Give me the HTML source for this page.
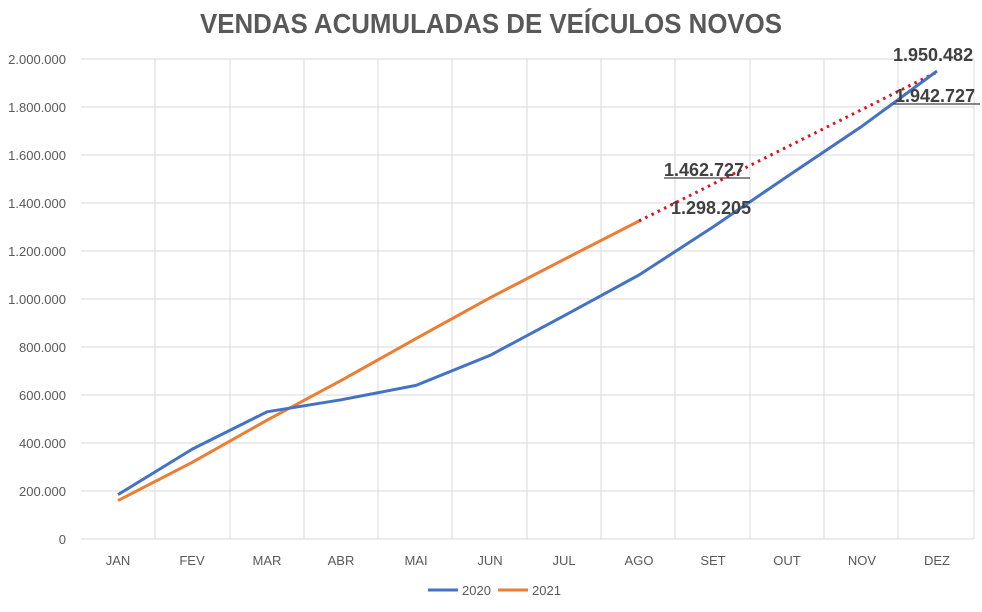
<!DOCTYPE html>
<html><head><meta charset="utf-8"><style>
body{margin:0;background:#fff;}
svg{display:block;font-family:"Liberation Sans",Arial,sans-serif;}
</style></head><body>
<svg width="982" height="612" viewBox="0 0 982 612">
<rect width="982" height="612" fill="#fff"/>
<text x="200" y="33" textLength="582" lengthAdjust="spacingAndGlyphs" font-size="28" font-weight="bold" fill="#595959">VENDAS ACUMULADAS DE VEÍCULOS NOVOS</text>
<g stroke="#d9d9d9" stroke-width="1">
<line x1="81" y1="59" x2="974" y2="59"/><line x1="81" y1="107" x2="974" y2="107"/><line x1="81" y1="155" x2="974" y2="155"/><line x1="81" y1="203" x2="974" y2="203"/><line x1="81" y1="251" x2="974" y2="251"/><line x1="81" y1="299" x2="974" y2="299"/><line x1="81" y1="347" x2="974" y2="347"/><line x1="81" y1="395" x2="974" y2="395"/><line x1="81" y1="443" x2="974" y2="443"/><line x1="81" y1="491" x2="974" y2="491"/><line x1="81" y1="539" x2="974" y2="539"/>
<line x1="155" y1="59" x2="155" y2="539"/><line x1="230" y1="59" x2="230" y2="539"/><line x1="304" y1="59" x2="304" y2="539"/><line x1="378" y1="59" x2="378" y2="539"/><line x1="452" y1="59" x2="452" y2="539"/><line x1="527" y1="59" x2="527" y2="539"/><line x1="601" y1="59" x2="601" y2="539"/><line x1="675" y1="59" x2="675" y2="539"/><line x1="750" y1="59" x2="750" y2="539"/><line x1="824" y1="59" x2="824" y2="539"/><line x1="898" y1="59" x2="898" y2="539"/><line x1="974" y1="59" x2="974" y2="539"/>
</g>
<g font-size="13" fill="#595959" text-anchor="end">
<text x="66" y="64">2.000.000</text><text x="66" y="112">1.800.000</text><text x="66" y="160">1.600.000</text><text x="66" y="208">1.400.000</text><text x="66" y="256">1.200.000</text><text x="66" y="304">1.000.000</text><text x="66" y="352">800.000</text><text x="66" y="400">600.000</text><text x="66" y="448">400.000</text><text x="66" y="496">200.000</text><text x="66" y="544">0</text>
</g>
<g font-size="13" fill="#595959" text-anchor="middle">
<text x="118" y="565">JAN</text><text x="192" y="565">FEV</text><text x="267" y="565">MAR</text><text x="341" y="565">ABR</text><text x="416" y="565">MAI</text><text x="490" y="565">JUN</text><text x="564" y="565">JUL</text><text x="639" y="565">AGO</text><text x="713" y="565">SET</text><text x="787" y="565">OUT</text><text x="862" y="565">NOV</text><text x="937" y="565">DEZ</text>
</g>
<polyline fill="none" stroke="#ed7d31" stroke-width="3" stroke-linejoin="round" points="118,500.6 192.5,462.2 267,420.2 341,380.6 416,338.6 490,297.8 564,259.4 639,221"/>
<line x1="639" y1="221" x2="937" y2="72" stroke="#e0101e" stroke-width="3" stroke-dasharray="2.5,4.5"/>
<polyline fill="none" stroke="#4472c4" stroke-width="3" stroke-linejoin="round" points="118,494.6 192.5,449 267,411.8 341,399.8 416,385.4 490,355.4 564,315.8 639,275 713,227 787,176.6 862,126.2 937,71"/>
<g font-size="18" font-weight="bold" fill="#404040">
<text x="893" y="61">1.950.482</text>
<text x="895" y="102">1.942.727</text>
<text x="664" y="176">1.462.727</text>
<text x="671" y="214">1.298.205</text>
</g>
<line x1="893" y1="104" x2="980" y2="104" stroke="#404040" stroke-width="1.3"/>
<line x1="664" y1="178" x2="750" y2="178" stroke="#404040" stroke-width="1.3"/>
<line x1="428" y1="590" x2="458" y2="590" stroke="#4472c4" stroke-width="3"/>
<text x="462" y="595" font-size="13" fill="#595959">2020</text>
<line x1="498" y1="590" x2="528" y2="590" stroke="#ed7d31" stroke-width="3"/>
<text x="532" y="595" font-size="13" fill="#595959">2021</text>
</svg>
</body></html>
